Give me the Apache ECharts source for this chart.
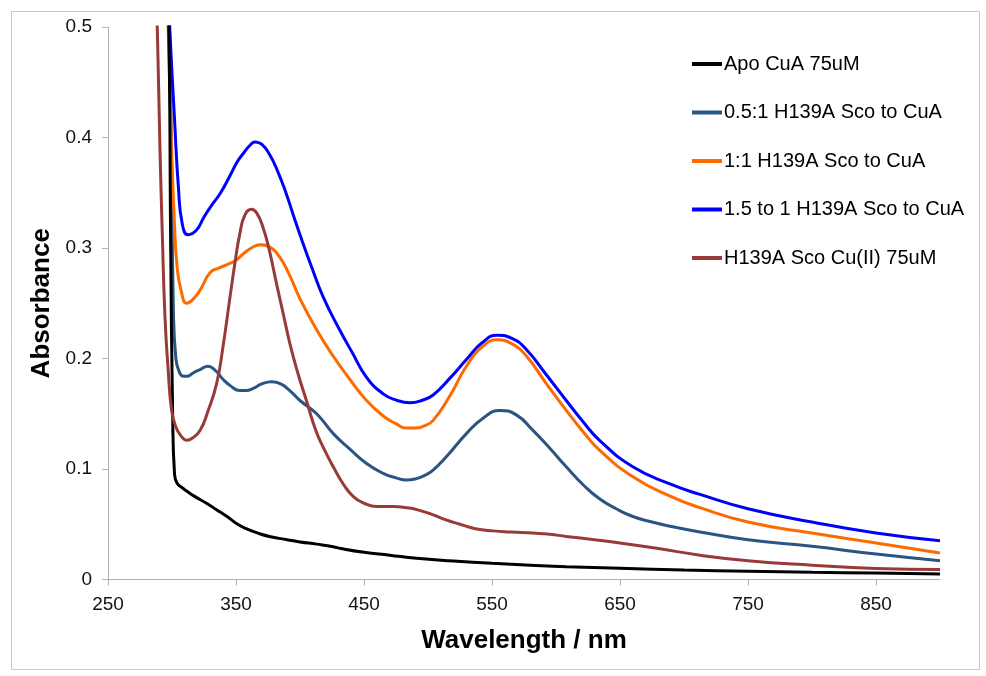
<!DOCTYPE html>
<html>
<head>
<meta charset="utf-8">
<script src="https://cdn.jsdelivr.net/npm/echarts@6/dist/echarts.min.js"></script>
<style>html,body{margin:0;padding:0;background:#fff}#chart{width:986px;height:676px}</style>
</head>
<body>
<div id="chart"></div>
<script>
// ---- Data ----
const seriesNames = ['Apo CuA 75uM', '0.5:1 H139A Sco to CuA', '1:1 H139A Sco to CuA', '1.5 to 1 H139A Sco to CuA', 'H139A Sco Cu(II) 75uM'];
const xTickLabels = [250, 350, 450, 550, 650, 750, 850];
const yTickLabels = [0, 0.1, 0.2, 0.3, 0.4, 0.5];

const apoWl  = [295, 297.5, 299, 300.5, 302, 304, 308, 311.5, 318, 327, 335, 343, 350, 358, 367, 377, 390, 400, 413, 426, 432, 450, 470, 491, 520, 550, 580, 608, 650, 700, 750, 800, 850, 900];
const apoAbs = [0.6, 0.5, 0.3, 0.15, 0.095, 0.087, 0.083, 0.080, 0.075, 0.069, 0.063, 0.057, 0.051, 0.046, 0.042, 0.0387, 0.036, 0.034, 0.032, 0.0297, 0.028, 0.0246, 0.022, 0.0192, 0.0168, 0.0147, 0.013, 0.0116, 0.0101, 0.0085, 0.0075, 0.0065, 0.0058, 0.005];

const halfWl  = [295, 298, 299.5, 301, 303, 306, 309, 312, 316.6, 322, 328, 334, 340, 346, 353, 358, 363.5, 370, 378, 385, 392, 400, 413, 426, 439, 452, 465, 475, 483, 490, 497, 504, 515, 530, 543, 556, 569, 582, 595, 608, 621, 634, 647, 660, 675, 690, 712.5, 750, 800, 850, 900];
const halfAbs = [0.6, 0.5, 0.39, 0.25, 0.2, 0.187, 0.184, 0.184, 0.187, 0.190, 0.193, 0.189, 0.181, 0.175, 0.171, 0.171, 0.173, 0.177, 0.179, 0.177, 0.171, 0.162, 0.150, 0.132, 0.118, 0.105, 0.096, 0.092, 0.090, 0.091, 0.094, 0.099, 0.112, 0.132, 0.146, 0.153, 0.149, 0.135, 0.119, 0.102, 0.086, 0.073, 0.064, 0.057, 0.052, 0.048, 0.043, 0.036, 0.030, 0.023, 0.017];

const oneWl  = [294, 297, 299.7, 302, 304, 307, 311.5, 316, 322, 330, 337, 343, 350, 356, 362, 369, 376, 384, 392, 400, 413, 426, 439, 452, 465, 475, 483, 490, 497, 504, 517, 530, 542, 554, 566, 577, 592, 608, 621, 634, 660, 690, 712.5, 750, 800, 850, 900];
const oneAbs = [0.6, 0.5, 0.389, 0.32, 0.283, 0.262, 0.250, 0.253, 0.262, 0.278, 0.282, 0.285, 0.289, 0.295, 0.300, 0.303, 0.301, 0.292, 0.275, 0.254, 0.226, 0.202, 0.181, 0.162, 0.148, 0.141, 0.137, 0.137, 0.139, 0.144, 0.166, 0.193, 0.210, 0.217, 0.213, 0.202, 0.178, 0.153, 0.134, 0.117, 0.093, 0.075, 0.065, 0.052, 0.042, 0.033, 0.024];

const onePtFiveWl  = [295, 298, 302, 305, 308, 312.5, 319, 325, 330, 338, 345.6, 351, 356, 361, 365, 370, 376, 382, 389, 395, 400, 409, 418, 430, 441, 452, 465, 476, 486, 495, 504, 517, 530, 542, 554, 566, 577, 592, 608, 621, 634, 660, 690, 712.5, 750, 800, 850, 900];
const onePtFiveAbs = [0.6, 0.506, 0.416, 0.355, 0.322, 0.312, 0.316, 0.328, 0.337, 0.350, 0.366, 0.378, 0.386, 0.393, 0.396, 0.394, 0.385, 0.371, 0.350, 0.329, 0.312, 0.283, 0.256, 0.228, 0.205, 0.183, 0.168, 0.162, 0.160, 0.162, 0.167, 0.182, 0.199, 0.214, 0.221, 0.218, 0.208, 0.186, 0.162, 0.143, 0.126, 0.102, 0.086, 0.077, 0.064, 0.052, 0.042, 0.035];

const cuWl  = [286, 288.5, 290.6, 292.5, 294.5, 297, 299.7, 303, 307, 311.5, 316, 322, 328, 335, 340, 345, 349, 353, 357, 362, 366, 371, 376, 381.6, 387, 392, 398, 405, 412, 418, 426, 434, 441.7, 450, 460, 473, 483, 492, 503, 514, 525, 537, 551, 565, 582, 595, 608, 630, 650, 680, 712.5, 750, 800, 850, 900];
const cuAbs = [0.6, 0.5, 0.39, 0.31, 0.238, 0.19, 0.153, 0.138, 0.130, 0.126, 0.128, 0.135, 0.152, 0.178, 0.212, 0.253, 0.285, 0.313, 0.330, 0.335, 0.332, 0.319, 0.298, 0.268, 0.240, 0.214, 0.188, 0.162, 0.136, 0.120, 0.102, 0.086, 0.075, 0.069, 0.066, 0.066, 0.065, 0.063, 0.059, 0.054, 0.050, 0.046, 0.044, 0.043, 0.042, 0.041, 0.039, 0.036, 0.033, 0.028, 0.022, 0.017, 0.013, 0.010, 0.009];

const colors = ['#000000', '#2a5583', '#ff6a00', '#0000ff', '#973a38'];
const wlSets = [apoWl, halfWl, oneWl, onePtFiveWl, cuWl];
const absSets = [apoAbs, halfAbs, oneAbs, onePtFiveAbs, cuAbs];

const zip = (xs, ys) => xs.map((x, i) => [x, ys[i]]);
const FONT = '"Liberation Sans", Arial, sans-serif';

const chart = echarts.init(document.getElementById('chart'), null, { renderer: 'canvas' });
chart.setOption({
  animation: false,
  backgroundColor: '#ffffff',
  textStyle: { fontFamily: FONT },
  graphic: [{
    type: 'rect', left: 9, top: 9, silent: true,
    shape: { width: 968, height: 658 },
    style: { fill: 'none', stroke: '#c8c8c8', lineWidth: 1 }
  }],
  grid: { left: 108, right: 46, top: 27, bottom: 96.5, containLabel: false },
  legend: {
    orient: 'vertical', left: 687, top: 49,
    itemWidth: 30, itemHeight: 4, itemGap: 28.5,
    icon: 'rect',
    textStyle: { fontSize: 20, color: '#000', fontFamily: FONT, padding: [0, 0, 0, -3] },
    data: seriesNames
  },
  xAxis: {
    type: 'value', min: 250, max: 900, interval: 100,
    name: 'Wavelength / nm', nameLocation: 'middle', nameGap: 48,
    nameTextStyle: { fontSize: 26, fontWeight: 'bold', color: '#000', fontFamily: FONT },
    axisLine: { show: true, lineStyle: { color: '#b3b3b3', width: 1 } },
    axisTick: { show: true, length: 6, lineStyle: { color: '#b3b3b3' } },
    axisLabel: { fontSize: 19, color: '#111', margin: 16, showMaxLabel: false,
      formatter: v => (xTickLabels.indexOf(v) >= 0 ? String(v) : '') },
    splitLine: { show: false }
  },
  yAxis: {
    type: 'value', min: 0, max: 0.5, interval: 0.1,
    name: 'Absorbance', nameLocation: 'middle', nameGap: 52,
    nameTextStyle: { fontSize: 26, fontWeight: 'bold', color: '#000', fontFamily: FONT },
    axisLine: { show: true, lineStyle: { color: '#b3b3b3', width: 1 } },
    axisTick: { show: true, length: 6, lineStyle: { color: '#b3b3b3' } },
    axisLabel: { fontSize: 19, color: '#111', margin: 16,
      formatter: v => { const t = yTickLabels.find(k => Math.abs(k - v) < 1e-9); return t === undefined ? '' : (t === 0 ? '0' : t.toFixed(1)); } },
    splitLine: { show: false }
  },
  series: seriesNames.map((n, i) => ({
    name: n, type: 'line', data: zip(wlSets[i], absSets[i]),
    showSymbol: false, symbol: 'none', smooth: 0.5, clip: true,
    lineStyle: { color: colors[i], width: 3 }, itemStyle: { color: colors[i] },
    z: i === 0 ? 6 : 2 + i
  }))
});
</script>
</body>
</html>
